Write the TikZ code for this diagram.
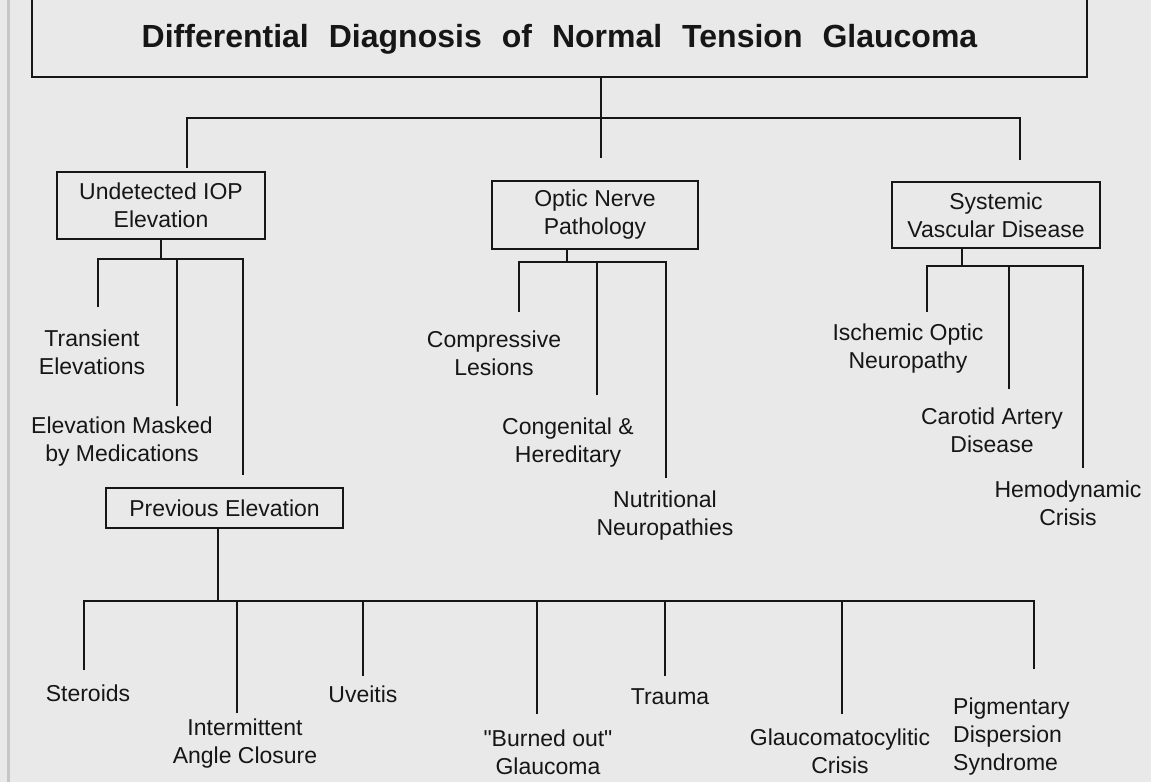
\documentclass[tikz,border=0pt]{standalone}
\usepackage{fontspec}
\setmainfont{Liberation Sans}
\definecolor{paper}{RGB}{233,233,233}
\definecolor{ink}{RGB}{22,22,22}
\newcommand\titlefont{\fontsize{32}{38}\selectfont\bfseries\spaceskip=20pt\relax}
\tikzset{
  catbox/.style={draw=ink, line width=2pt, align=center, inner sep=0pt},
  leaf/.style={align=center, inner sep=0pt},
  branch/.style={draw=ink, line width=1.6pt},
}
\begin{document}
\begin{tikzpicture}[x=1pt, y=-1pt, font=\fontsize{23}{28}\selectfont, text=ink]
\useasboundingbox (0,0) rectangle (1151,782);
\fill[paper] (0,0) rectangle (1151,782);
\draw[line width=3pt, gray!45] (8,0) -- (8,782);

\node[catbox, minimum width=1055pt, minimum height=94pt, text height=34pt, text depth=0pt,
  font=\titlefont] (title) at (559.5,30)
  {Differential Diagnosis of Normal Tension Glaucoma};

\node[catbox, minimum width=208pt, minimum height=67pt] (iop) at (161,205.5) {Undetected IOP\\Elevation};
\node[catbox, minimum width=206pt, minimum height=68pt] (onp) at (595,215) {Optic Nerve\\Pathology};
\node[catbox, minimum width=208pt, minimum height=66pt] (svd) at (996,215) {Systemic\\Vascular Disease};
\node[catbox, minimum width=237pt, minimum height=40pt] (prev) at (224.5,508) {Previous Elevation};

\node[leaf] (trans) at (92,352) {Transient\\Elevations};
\node[leaf] (masked) at (122,442) {Elevation Masked\\by Medications};
\node[leaf] (comp) at (494,353) {Compressive\\Lesions};
\node[leaf] (cong) at (568,443) {Congenital \&\\Hereditary};
\node[leaf] (nutr) at (665,516) {Nutritional\\Neuropathies};
\node[leaf] (isch) at (908,349) {Ischemic Optic\\Neuropathy};
\node[leaf] (carot) at (992,430) {Carotid Artery\\Disease};
\node[leaf] (hemo) at (1068,503) {Hemodynamic\\Crisis};

\node[leaf] (ster) at (88,693) {Steroids};
\node[leaf] (inter) at (245,744) {Intermittent\\Angle Closure};
\node[leaf] (uveit) at (363,694) {Uveitis};
\node[leaf] (burned) at (548,752) {\textquotedbl Burned out\textquotedbl\\Glaucoma};
\node[leaf] (trauma) at (670,697) {Trauma};
\node[leaf] (glauc) at (840,751) {Glaucomatocylitic\\Crisis};
\node[leaf, align=left, anchor=west] (pigm) at (953,737) {Pigmentary\\Dispersion\\Syndrome};

\coordinate (tj) at (601,118);
\coordinate (d-iop) at (187,168);
\coordinate (d-onp) at (601,158);
\coordinate (d-svd) at (1020,160);
\draw[branch] (title.south -| tj) -- (tj);
\draw[branch] (d-iop) |- (tj) -| (d-svd);
\draw[branch] (tj) -- (d-onp);

\coordinate (iopj) at (161,259);
\coordinate (e1) at (98,307);
\coordinate (e2) at (177,406);
\coordinate (e3) at (243,475);
\draw[branch] (iop) -- (iopj);
\draw[branch] (e1) |- (iopj) -| (e3);
\draw[branch] (e2) -- (e2 |- iopj);

\coordinate (onpj) at (567,262);
\coordinate (f1) at (519,312);
\coordinate (f2) at (597,395);
\coordinate (f3) at (666,478);
\draw[branch] (onpj |- onp.south) -- (onpj);
\draw[branch] (f1) |- (onpj) -| (f3);
\draw[branch] (f2) -- (f2 |- onpj);

\coordinate (svdj) at (962,266);
\coordinate (g1) at (927,312);
\coordinate (g2) at (1009,389);
\coordinate (g3) at (1083,468);
\draw[branch] (svdj |- svd.south) -- (svdj);
\draw[branch] (g1) |- (svdj) -| (g3);
\draw[branch] (g2) -- (g2 |- svdj);

\coordinate (prevj) at (218,601);
\coordinate (h1) at (84,670);
\coordinate (h2) at (237,713);
\coordinate (h3) at (363,676);
\coordinate (h4) at (537,714);
\coordinate (h5) at (665,676);
\coordinate (h6) at (842,714);
\coordinate (h7) at (1034,669);
\draw[branch] (prevj |- prev.south) -- (prevj);
\draw[branch] (h1) |- (prevj) -| (h7);
\foreach \h in {h2,h3,h4,h5,h6}
  \draw[branch] (\h) -- (\h |- prevj);
\end{tikzpicture}
\end{document}
